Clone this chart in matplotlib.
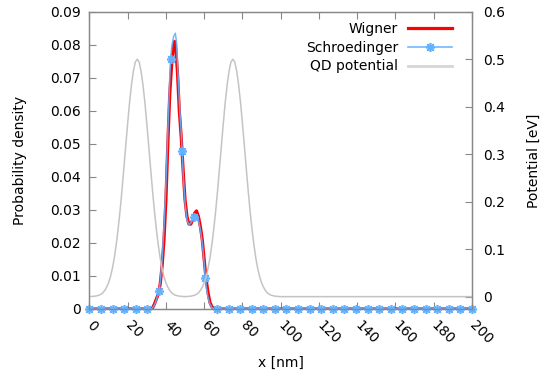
import matplotlib
matplotlib.use('Agg')
import matplotlib.pyplot as plt
from matplotlib.lines import Line2D

# ---- data ----
wig_x = [0, 32, 33, 34, 35, 36, 37, 38, 39, 40, 41, 42, 43, 44, 44.5, 45, 46, 47, 48, 49,
         50, 51, 52, 53, 54, 55, 56, 57, 58, 59, 60, 61, 62, 63, 64, 65, 66, 200]
wig_y = [0, 0, 0.0003, 0.0015, 0.003, 0.0045, 0.0075, 0.013, 0.021, 0.033, 0.050, 0.065,
         0.074, 0.0805, 0.081, 0.080, 0.072, 0.060, 0.052, 0.042, 0.033, 0.028, 0.0257,
         0.0257, 0.027, 0.029, 0.0297, 0.028, 0.025, 0.021, 0.015, 0.009, 0.005, 0.002,
         0.0007, 0.0002, 0, 0]

sch_x = [0, 32, 33, 34, 35, 36, 36.36, 37, 38, 39, 40, 41, 42, 42.42, 43, 44, 44.9, 45.5,
         46, 47, 48, 48.48, 49, 50, 51, 52, 53, 54, 54.55, 55, 56, 57, 58, 59, 60, 60.61,
         61, 62, 63, 64, 65, 66, 200]
sch_y = [0, 0, 0.0003, 0.0012, 0.0027, 0.0048, 0.0055, 0.008, 0.015, 0.025, 0.038, 0.054,
         0.070, 0.0757, 0.079, 0.0825, 0.0835, 0.081, 0.075, 0.063, 0.053, 0.0479, 0.041,
         0.032, 0.027, 0.0255, 0.026, 0.027, 0.0279, 0.0284, 0.0285, 0.027, 0.024, 0.020,
         0.014, 0.0093, 0.007, 0.0035, 0.0015, 0.0005, 0.0001, 0, 0]

# Schroedinger sample points shown with markers
sch_mx = [0, 6.06, 12.12, 18.18, 24.24, 30.30, 36.36, 42.42, 48.48, 54.55, 60.61, 66.67,
          72.73, 78.79, 84.85, 90.91, 96.97, 103.03, 109.09, 115.15, 121.21, 127.27,
          133.33, 139.39, 145.45, 151.52, 157.58, 163.64, 169.70, 175.76, 181.82, 187.88,
          193.94, 200.0]
sch_my = [0, 0, 0, 0, 0, 0, 0.0055, 0.0757, 0.0479, 0.0279, 0.0093, 0,
          0, 0, 0, 0, 0, 0, 0, 0, 0, 0,
          0, 0, 0, 0, 0, 0, 0, 0, 0, 0,
          0, 0]

# quantum dot potential (eV)
pot_x = [0, 3, 4, 5, 6, 7, 8, 9, 10, 11, 12, 13, 14, 15, 16, 17, 18, 19, 20, 21, 22, 23, 24,
         25, 26, 27, 28, 29, 30, 31, 32, 33, 34, 35, 36, 37, 38, 39, 40, 41, 42, 43, 44,
         45, 47, 50, 53, 55, 56, 57, 58, 59, 60, 61, 62, 63, 64, 65, 66, 67, 68, 69, 70,
         71, 72, 73, 74, 75, 76, 77, 78, 79, 80, 81, 82, 83, 84, 85, 86, 87, 88, 89, 90,
         91, 92, 93, 94, 95, 97, 100, 200]
pot_y = [0, 0.001, 0.002, 0.003, 0.005, 0.008, 0.013, 0.020, 0.029, 0.042, 0.059, 0.081,
         0.109, 0.142, 0.180, 0.223, 0.270, 0.318, 0.365, 0.409, 0.446, 0.475, 0.494,
         0.500, 0.494, 0.475, 0.446, 0.409, 0.365, 0.318, 0.270, 0.223, 0.180, 0.142,
         0.109, 0.081, 0.059, 0.042, 0.029, 0.020, 0.013, 0.008, 0.005, 0.003, 0.001,
         0, 0.001, 0.003, 0.005, 0.008, 0.013, 0.020, 0.029, 0.042, 0.059, 0.081, 0.109,
         0.142, 0.180, 0.223, 0.270, 0.318, 0.365, 0.409, 0.446, 0.475, 0.494, 0.500,
         0.494, 0.475, 0.446, 0.409, 0.365, 0.318, 0.270, 0.223, 0.180, 0.142, 0.109,
         0.081, 0.059, 0.042, 0.029, 0.020, 0.013, 0.008, 0.005, 0.003, 0.001, 0, 0]

x_ticks = [0, 20, 40, 60, 80, 100, 120, 140, 160, 180, 200]
y_ticks = [0, 0.01, 0.02, 0.03, 0.04, 0.05, 0.06, 0.07, 0.08, 0.09]
y2_ticks = [0, 0.1, 0.2, 0.3, 0.4, 0.5, 0.6]

# ---- styling ----
plt.rcParams['font.family'] = ['DejaVu Sans']
plt.rcParams['font.size'] = 10
RED = '#ff0000'
BLUE = '#62b2ff'
GREY = '#c4c4c4'
FRAME = '#888888'

fig = plt.figure(figsize=(5.47, 3.78), dpi=100)
ax = fig.add_axes([89.4 / 547, 1 - 309 / 378, (472 - 89.4) / 547, (309 - 11.7) / 378])
ax2 = ax.twinx()

ax.plot(wig_x, wig_y, color=RED, lw=2.3, zorder=3, solid_joinstyle='round')
ax.plot(sch_x, sch_y, color=BLUE, lw=1.1, zorder=4, alpha=0.9)
ax.plot(sch_mx, sch_my, ls='none', marker=(8, 2, 0), ms=6.5, mew=1.2, color=BLUE,
        zorder=5, clip_on=False)
ax2.plot(pot_x, pot_y, color=GREY, lw=1.1)

ax.set_xlim(0, 200)
ax.set_ylim(0, 0.09)
ax2.set_ylim(-0.026, 0.6)

ax.set_xticks(x_ticks)
ax.set_xticklabels([str(v) for v in x_ticks], rotation=-45, ha='left', va='center',
                   rotation_mode='anchor')
ax.set_yticks(y_ticks)
ax.set_yticklabels(['%g' % v for v in y_ticks])
ax2.set_yticks(y2_ticks)
ax2.set_yticklabels(['%g' % v for v in y2_ticks])

ax.tick_params(axis='x', direction='in', top=True, length=5, color=FRAME, pad=10)
ax.tick_params(axis='y', direction='in', left=True, right=False, length=5, color=FRAME, pad=6)
ax2.tick_params(axis='y', direction='in', length=5, color=FRAME, pad=8)
for a in (ax, ax2):
    for s in a.spines.values():
        s.set_color(FRAME)
        s.set_linewidth(0.9)

ax.set_xlabel('x [nm]', labelpad=7)
ax.set_ylabel('Probability density', labelpad=17)
ax2.set_ylabel('Potential [eV]', labelpad=16)

handles = [
    Line2D([], [], color=RED, lw=2.3),
    Line2D([], [], color=BLUE, lw=1.1, marker=(8, 2, 0), ms=6.5, mew=1.2),
    Line2D([], [], color='#d6d6d6', lw=2),
]
leg = ax2.legend(handles, ['Wigner', 'Schroedinger', 'QD potential'], loc='upper right',
                 bbox_to_anchor=(0.963, 0.985), frameon=False, markerfirst=False,
                 handlelength=3.2, handletextpad=0.7, labelspacing=0.35,
                 borderaxespad=0.0, alignment='right')
for t in leg.get_texts():
    t.set_ha('right')

fig.savefig('out.png', dpi=100)
